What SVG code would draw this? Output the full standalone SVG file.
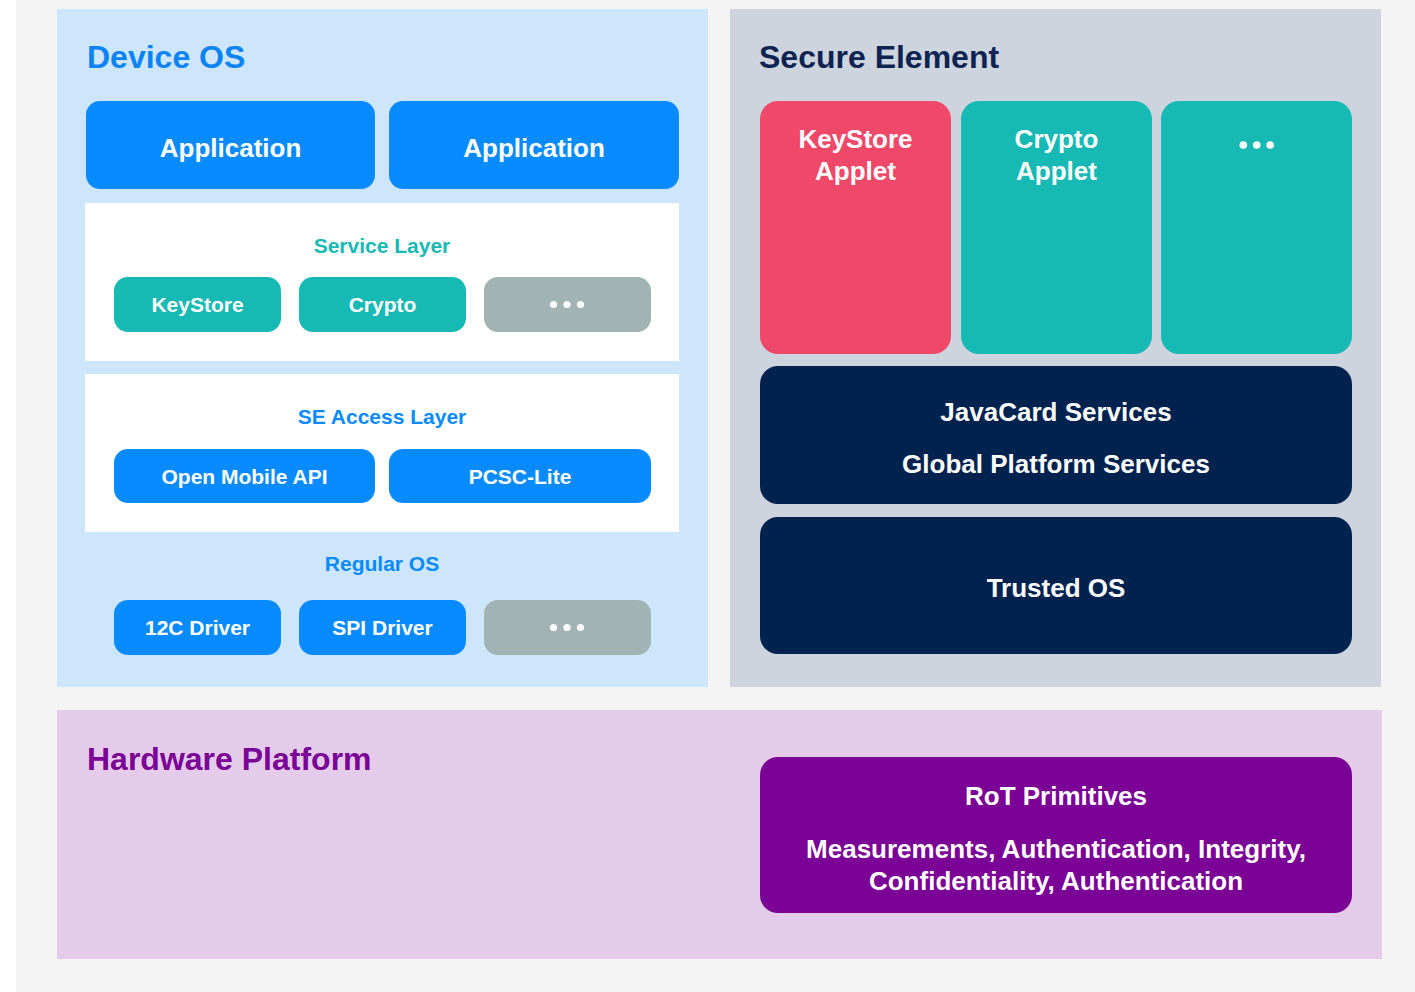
<svg xmlns="http://www.w3.org/2000/svg" width="1415" height="992" viewBox="0 0 1415 992">
<style>
text{font-family:"Liberation Sans",Arial,sans-serif;font-weight:bold;}
.title{font-size:32px;}
.lbl{font-size:26px;fill:#fff;text-anchor:middle;}
.btn{font-size:21px;fill:#fff;text-anchor:middle;}
.sub{font-size:21px;text-anchor:middle;}
.blue{fill:#088bff;}
.teal{fill:#16b9b4;}
.gray{fill:#a1b4b3;}
.navy{fill:#00224f;}
.dot{fill:#fff;}
</style>
<rect x="0" y="0" width="1415" height="992" fill="#ffffff"/>
<rect x="16" y="0" width="1399" height="992" fill="#f4f4f4"/>

<g id="device-os">
<rect x="57" y="9" width="651" height="678" fill="#cde6fb"/>
<text class="title" x="87" y="68" fill="#0a84f5">Device OS</text>
</g>
<g id="app1">
<rect class="blue" x="86" y="101" width="289" height="88" rx="14"/>
<text class="lbl" x="230.5" y="157">Application</text>
</g>
<g id="app2">
<rect class="blue" x="389" y="101" width="290" height="88" rx="14"/>
<text class="lbl" x="534" y="157">Application</text>
</g>
<g id="service-layer">
<rect x="85" y="203" width="594" height="158" fill="#ffffff"/>
<text class="sub" x="382" y="253" fill="#16b9b4">Service Layer</text>
</g>
<g id="svc-keystore">
<rect class="teal" x="114" y="277" width="167" height="55" rx="14"/>
<text class="btn" x="197.5" y="312">KeyStore</text>
</g>
<g id="svc-crypto">
<rect class="teal" x="299" y="277" width="167" height="55" rx="14"/>
<text class="btn" x="382.5" y="312">Crypto</text>
</g>
<g id="svc-more">
<rect class="gray" x="484" y="277" width="167" height="55" rx="14"/>
<circle class="dot" cx="553.5" cy="304.5" r="3.6"/>
<circle class="dot" cx="567" cy="304.5" r="3.6"/>
<circle class="dot" cx="580.5" cy="304.5" r="3.6"/>
</g>
<g id="se-access-layer">
<rect x="85" y="374" width="594" height="158" fill="#ffffff"/>
<text class="sub" x="382" y="424" fill="#088bff">SE Access Layer</text>
</g>
<g id="open-mobile-api">
<rect class="blue" x="114" y="449" width="261" height="54" rx="14"/>
<text class="btn" x="244.5" y="484">Open Mobile API</text>
</g>
<g id="pcsc-lite">
<rect class="blue" x="389" y="449" width="262" height="54" rx="14"/>
<text class="btn" x="520" y="484">PCSC-Lite</text>
</g>
<g id="regular-os">
<text class="sub" x="382" y="571" fill="#088bff">Regular OS</text>
</g>
<g id="i2c-driver">
<rect class="blue" x="114" y="600" width="167" height="55" rx="14"/>
<text class="btn" x="197.5" y="635">12C Driver</text>
</g>
<g id="spi-driver">
<rect class="blue" x="299" y="600" width="167" height="55" rx="14"/>
<text class="btn" x="382.5" y="635">SPI Driver</text>
</g>
<g id="driver-more">
<rect class="gray" x="484" y="600" width="167" height="55" rx="14"/>
<circle class="dot" cx="553.5" cy="627.5" r="3.6"/>
<circle class="dot" cx="567" cy="627.5" r="3.6"/>
<circle class="dot" cx="580.5" cy="627.5" r="3.6"/>
</g>

<g id="secure-element">
<rect x="730" y="9" width="651" height="678" fill="#cdd4de"/>
<text class="title" x="759" y="68" fill="#0d2452">Secure Element</text>
</g>
<g id="keystore-applet">
<rect x="760" y="101" width="191" height="253" rx="18" fill="#f04868"/>
<text class="lbl" x="855.5" y="148">KeyStore</text>
<text class="lbl" x="855.5" y="180">Applet</text>
</g>
<g id="crypto-applet">
<rect class="teal" x="961" y="101" width="191" height="253" rx="18"/>
<text class="lbl" x="1056.5" y="148">Crypto</text>
<text class="lbl" x="1056.5" y="180">Applet</text>
</g>
<g id="applet-more">
<rect class="teal" x="1161" y="101" width="191" height="253" rx="18"/>
<circle class="dot" cx="1243.3" cy="145" r="3.8"/>
<circle class="dot" cx="1256.7" cy="145" r="3.8"/>
<circle class="dot" cx="1270.2" cy="145" r="3.8"/>
</g>
<g id="javacard-services">
<rect class="navy" x="760" y="366" width="592" height="138" rx="18"/>
<text class="lbl" x="1056" y="421">JavaCard Services</text>
<text class="lbl" x="1056" y="473">Global Platform Services</text>
</g>
<g id="trusted-os">
<rect class="navy" x="760" y="517" width="592" height="137" rx="18"/>
<text class="lbl" x="1056" y="597">Trusted OS</text>
</g>

<g id="hardware-platform">
<rect x="57" y="710" width="1325" height="249" fill="#e4cbe9"/>
<text class="title" x="87" y="770" fill="#7a0096">Hardware Platform</text>
</g>
<g id="rot-primitives">
<rect x="760" y="757" width="592" height="156" rx="18" fill="#7b0095"/>
<text class="lbl" x="1056" y="805">RoT Primitives</text>
<text class="lbl" x="1056" y="858">Measurements, Authentication, Integrity,</text>
<text class="lbl" x="1056" y="890">Confidentiality, Authentication</text>
</g>

<g id="connectors"></g>
</svg>
